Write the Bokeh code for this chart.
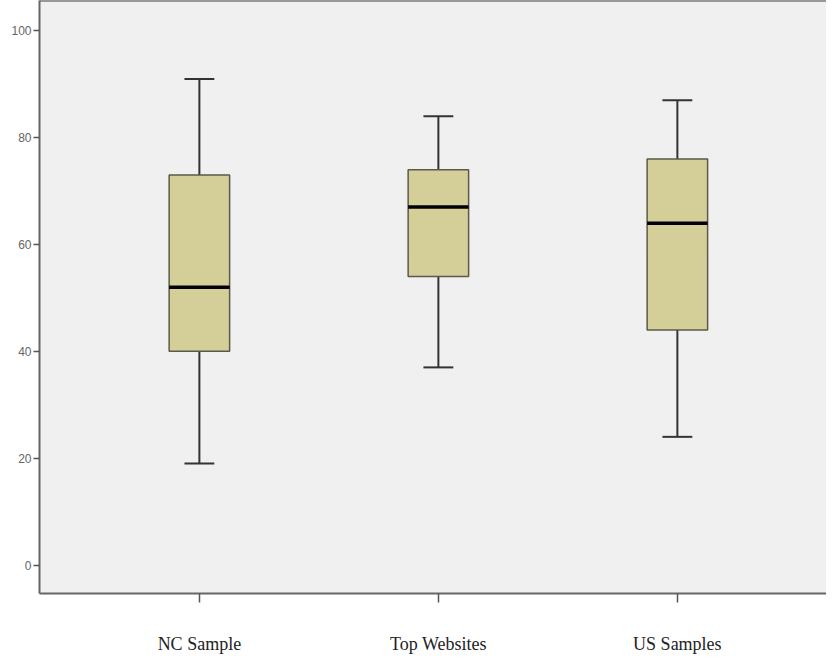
from bokeh.plotting import figure
from bokeh.models import Range1d, LinearAxis, FixedTicker, ColumnDataSource
from bokeh.embed import file_html
from bokeh.resources import INLINE

# Data
categories = ["NC Sample", "Top Websites", "US Samples"]
whisker_low = [19, 37, 24]
q1 = [40, 54, 44]
median = [52, 67, 64]
q3 = [73, 74, 76]
whisker_high = [91, 84, 87]
y_ticks = [0, 20, 40, 60, 80, 100]

pos = [i + 1 for i in range(len(categories))]
box_w = 0.253
cap_w = 0.125

src = ColumnDataSource(dict(
    x=pos,
    lo=whisker_low, q1=q1, med=median, q3=q3, hi=whisker_high,
    bx0=[p_ - box_w / 2 for p_ in pos], bx1=[p_ + box_w / 2 for p_ in pos],
    cx0=[p_ - cap_w / 2 for p_ in pos], cx1=[p_ + cap_w / 2 for p_ in pos],
))

p = figure(width=826, height=658, output_backend="svg", toolbar_location=None,
           x_range=Range1d(0.331, 3.624), y_range=Range1d(-5.32, 105.67),
           min_border_left=39, min_border_right=0, min_border_top=0,
           min_border_bottom=65)

p.background_fill_color = "#f0f0f0"
p.border_fill_color = "white"
p.outline_line_color = None
p.xgrid.visible = False
p.ygrid.visible = False

# whiskers
p.segment(x0="x", x1="x", y0="lo", y1="q1", source=src, line_color="#333333", line_width=2)
p.segment(x0="x", x1="x", y0="q3", y1="hi", source=src, line_color="#333333", line_width=2)
p.segment(x0="cx0", x1="cx1", y0="lo", y1="lo", source=src, line_color="#333333", line_width=2)
p.segment(x0="cx0", x1="cx1", y0="hi", y1="hi", source=src, line_color="#333333", line_width=2)

# boxes
p.vbar(x="x", width=box_w, bottom="q1", top="q3", source=src,
       fill_color="#d4cf98", line_color="#5a5a4a", line_width=1.5)
# medians
p.segment(x0="bx0", x1="bx1", y0="med", y1="med", source=src, line_color="black", line_width=3.5)

# x axis
xa = p.xaxis[0]
xa.ticker = FixedTicker(ticks=pos)
xa.major_label_overrides = {p_: c for p_, c in zip(pos, categories)}
xa.major_label_text_font = "Liberation Serif"
xa.major_label_text_font_size = "18px"
xa.major_label_text_color = "#222222"
xa.major_label_standoff = 31
xa.major_tick_in = 0
xa.major_tick_out = 9
xa.major_tick_line_color = "#555555"
xa.major_tick_line_width = 1.5
xa.minor_tick_line_color = None
xa.axis_line_color = "#666666"
xa.axis_line_width = 2

# y axis
ya = p.yaxis[0]
ya.ticker = FixedTicker(ticks=y_ticks)
ya.major_label_text_font = "Liberation Sans"
ya.major_label_text_font_size = "12px"
ya.major_label_text_color = "#666666"
ya.major_label_standoff = 2
ya.major_tick_in = 0
ya.major_tick_out = 6
ya.major_tick_line_color = "#555555"
ya.major_tick_line_width = 1.5
ya.minor_tick_line_color = None
ya.axis_line_color = "#666666"
ya.axis_line_width = 2

# top border line
top = LinearAxis(ticker=FixedTicker(ticks=[]), major_label_text_font_size="0px",
                 major_tick_line_color=None, minor_tick_line_color=None,
                 axis_line_color="#999999", axis_line_width=3,
                 major_label_standoff=0)
p.add_layout(top, "above")

open("out.html", "w").write(file_html(p, INLINE))
